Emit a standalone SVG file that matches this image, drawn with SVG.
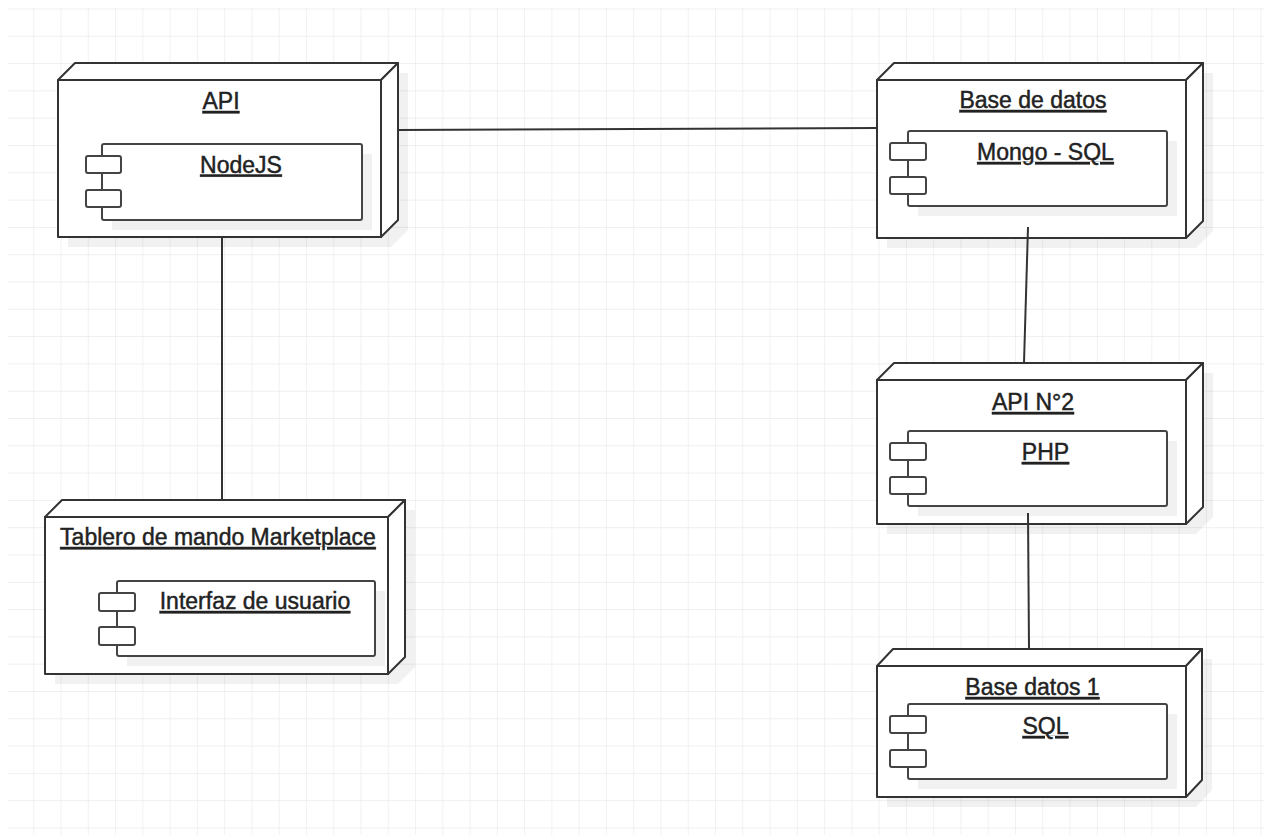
<svg xmlns="http://www.w3.org/2000/svg" width="1264" height="835" viewBox="0 0 1264 835">
<style>
.face{fill:#fff;stroke:#333;stroke-width:2;stroke-linejoin:round}
.sh{fill:#000;opacity:0.055}
.comp{fill:#fff;stroke:#444;stroke-width:2}
.tab{fill:#fff;stroke:#444;stroke-width:2}
.t{font-family:"Liberation Sans",Arial,sans-serif;font-size:23px;fill:#222;stroke:#222;stroke-width:0.45;text-anchor:middle;text-decoration:underline}
.edge{stroke:#333;stroke-width:2;fill:none}
</style>
<defs>
<pattern id="grid" x="6" y="8.5" width="27.27" height="27.3" patternUnits="userSpaceOnUse">
<path d="M0 0H27.27M0 0V27.3" fill="none" stroke="#eaeaea" stroke-width="1.3"/>
</pattern>
</defs>
<rect width="1264" height="835" fill="#fff"/>
<rect x="8" y="8" width="1256" height="827" fill="url(#grid)"/>

<g id="node-api">
<path class="sh" d="M68 90L85 73H408V230L391 247H68Z"/>
<path class="face" d="M58 80L75 63H398L381 80Z"/>
<path class="face" d="M381 80L398 63V220L381 237Z"/>
<rect class="face" x="58" y="80" width="323" height="157"/>
<text class="t" x="221" y="109">API</text>
<g id="comp-nodejs">
<rect class="sh" x="112" y="154" width="260" height="76"/>
<rect class="comp" x="102" y="144" width="260" height="76" rx="2"/>
<rect class="tab" x="86" y="156" width="35" height="17" rx="2"/>
<rect class="tab" x="86" y="190" width="35" height="17" rx="2"/>
<text class="t" x="241" y="172.5">NodeJS</text>
</g>
</g>

<g id="node-tablero">
<path class="sh" d="M55 527L72 510H415V667L398 684H55Z"/>
<path class="face" d="M45 517L62 500H405L388 517Z"/>
<path class="face" d="M388 517L405 500V657L388 674Z"/>
<rect class="face" x="45" y="517" width="343" height="157"/>
<text class="t" x="218" y="545">Tablero de mando Marketplace</text>
<g id="comp-interfaz">
<rect class="sh" x="127" y="591" width="258" height="75"/>
<rect class="comp" x="117" y="581" width="258" height="75" rx="2"/>
<rect class="tab" x="99" y="593" width="36" height="18" rx="2"/>
<rect class="tab" x="99" y="627" width="36" height="18" rx="2"/>
<text class="t" x="255" y="609">Interfaz de usuario</text>
</g>
</g>

<g id="node-basedatos">
<path class="sh" d="M887 90L904 73H1213V231L1196 248H887Z"/>
<path class="face" d="M877 80L894 63H1203L1186 80Z"/>
<path class="face" d="M1186 80L1203 63V221L1186 238Z"/>
<rect class="face" x="877" y="80" width="309" height="158"/>
<text class="t" x="1033" y="108">Base de datos</text>
<g id="comp-mongo">
<rect class="sh" x="918" y="141" width="259" height="75"/>
<rect class="comp" x="908" y="131" width="259" height="75" rx="2"/>
<rect class="tab" x="890" y="143" width="36" height="17" rx="2"/>
<rect class="tab" x="890" y="177" width="36" height="17" rx="2"/>
<text class="t" x="1045.5" y="160">Mongo - SQL</text>
</g>
</g>

<g id="node-api2">
<path class="sh" d="M887 390L904 373H1213V517L1196 534H887Z"/>
<path class="face" d="M877 380L894 363H1203L1186 380Z"/>
<path class="face" d="M1186 380L1203 363V507L1186 524Z"/>
<rect class="face" x="877" y="380" width="309" height="144"/>
<text class="t" x="1033" y="410">API N°2</text>
<g id="comp-php">
<rect class="sh" x="918" y="441" width="259" height="75"/>
<rect class="comp" x="908" y="431" width="259" height="75" rx="2"/>
<rect class="tab" x="890" y="443" width="36" height="17" rx="2"/>
<rect class="tab" x="890" y="477" width="36" height="17" rx="2"/>
<text class="t" x="1045.5" y="460">PHP</text>
</g>
</g>

<g id="node-basedatos1">
<path class="sh" d="M887 676L904 659H1212V790L1196 807H887Z"/>
<path class="face" d="M877 666L893 649H1202L1186 666Z"/>
<path class="face" d="M1186 666L1202 649V780L1186 797Z"/>
<rect class="face" x="877" y="666" width="309" height="131"/>
<text class="t" x="1032.5" y="695">Base datos 1</text>
<g id="comp-sql">
<rect class="sh" x="918" y="714" width="259" height="75"/>
<rect class="comp" x="908" y="704" width="259" height="75" rx="2"/>
<rect class="tab" x="890" y="716" width="36" height="17" rx="2"/>
<rect class="tab" x="890" y="750" width="36" height="17" rx="2"/>
<text class="t" x="1045.5" y="734">SQL</text>
</g>
</g>

<g id="connectors">
<line class="edge" x1="398" y1="130" x2="877" y2="128"/>
<line class="edge" x1="222" y1="237" x2="222" y2="500"/>
<line class="edge" x1="1028" y1="227" x2="1024" y2="363"/>
<line class="edge" x1="1028" y1="513" x2="1029" y2="649"/>
</g>
</svg>
